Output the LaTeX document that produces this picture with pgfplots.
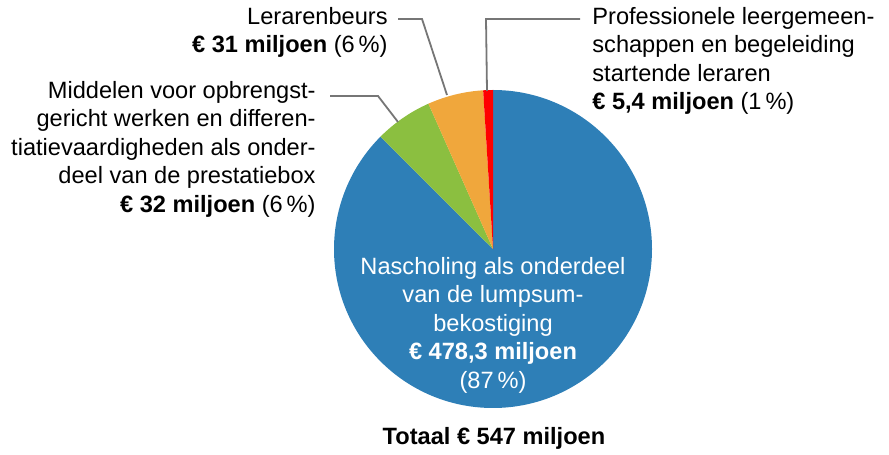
\documentclass[border=0pt]{standalone}
\usepackage{pgfplots}
\pgfplotsset{compat=1.18}
\usepackage{fontspec}
\setmainfont{Liberation Sans}

\definecolor{pieblue}{HTML}{2E7FB7}
\definecolor{piegreen}{HTML}{8BBF40}
\definecolor{pieorange}{HTML}{F0A73C}
\definecolor{piered}{HTML}{FF0000}
\definecolor{leader}{HTML}{767676}

% bedragen in miljoen euro
\def\vNascholing{478.3}
\def\vMiddelen{32}
\def\vBeurs{31}
\def\vPLG{5.4}

\begin{document}
\begin{tikzpicture}
\begin{axis}[
    hide axis,
    scale only axis,
    x=0.5pt, y=0.5pt,
    xmin=0, xmax=889, ymin=0, ymax=455,
    clip=false,
    ]
    \path (rel axis cs:0,0) rectangle (rel axis cs:1,1);

    \pgfmathsetmacro{\tot}{\vNascholing+\vMiddelen+\vBeurs+\vPLG}
    \pgfmathsetmacro{\aA}{90}
    \pgfmathsetmacro{\aB}{\aA-360*(\vNascholing/\tot)}
    \pgfmathsetmacro{\aC}{\aB-360*(\vMiddelen/\tot)}
    \pgfmathsetmacro{\aD}{\aC-360*(\vBeurs/\tot)}
    \pgfmathsetmacro{\aE}{\aD-360*(\vPLG/\tot)}

    \fill[pieblue] (axis cs:493,206) -- ++(\aA:79.5pt) arc[start angle=\aA, end angle=\aB, radius=79.5pt] -- cycle;
    \fill[piegreen] (axis cs:493,206) -- ++(\aB:79.5pt) arc[start angle=\aB, end angle=\aC, radius=79.5pt] -- cycle;
    \fill[pieorange] (axis cs:493,206) -- ++(\aC:79.5pt) arc[start angle=\aC, end angle=\aD, radius=79.5pt] -- cycle;
    \fill[piered] (axis cs:493,206) -- ++(\aD:79.5pt) arc[start angle=\aD, end angle=\aE, radius=79.5pt] -- cycle;

    % verbindingslijnen
    \draw[leader, line width=0.9pt] (axis cs:398,436) -- (axis cs:422,436) -- (axis cs:447,360);
    \draw[leader, line width=0.9pt] (axis cs:580,436) -- (axis cs:486,436) -- (axis cs:487,364);
    \draw[leader, line width=0.9pt] (axis cs:330,359) -- (axis cs:378,359) -- (axis cs:398,333);

    \node[anchor=north east, align=right, inner sep=0pt, font=\fontsize{11.8}{14.2}\selectfont]
        at (axis cs:388,448) {Lerarenbeurs\\\textbf{€ 31 miljoen} (6\,\%)};
    \node[anchor=north west, align=left, inner sep=0pt, font=\fontsize{11.8}{14.2}\selectfont]
        at (axis cs:592,448) {Professionele leergemeen-\\schappen en begeleiding\\startende leraren\\\textbf{€ 5,4 miljoen} (1\,\%)};
    \node[anchor=north east, align=right, inner sep=0pt, font=\fontsize{11.8}{14.2}\selectfont]
        at (axis cs:316,374) {Middelen voor opbrengst-\\gericht werken en differen-\\tiatievaardigheden als onder-\\deel van de prestatiebox\\\textbf{€ 32 miljoen} (6\,\%)};
    \node[anchor=north, align=center, inner sep=0pt, text=white, font=\fontsize{11.8}{14.2}\selectfont]
        at (axis cs:493,198) {Nascholing als onderdeel\\van de lumpsum-\\bekostiging\\\textbf{€ 478,3 miljoen}\\(87\,\%)};
    \node[anchor=base, inner sep=0pt, font=\bfseries\fontsize{11.8}{14.2}\selectfont]
        at (axis cs:494,10) {Totaal € 547 miljoen};
\end{axis}
\end{tikzpicture}
\end{document}
